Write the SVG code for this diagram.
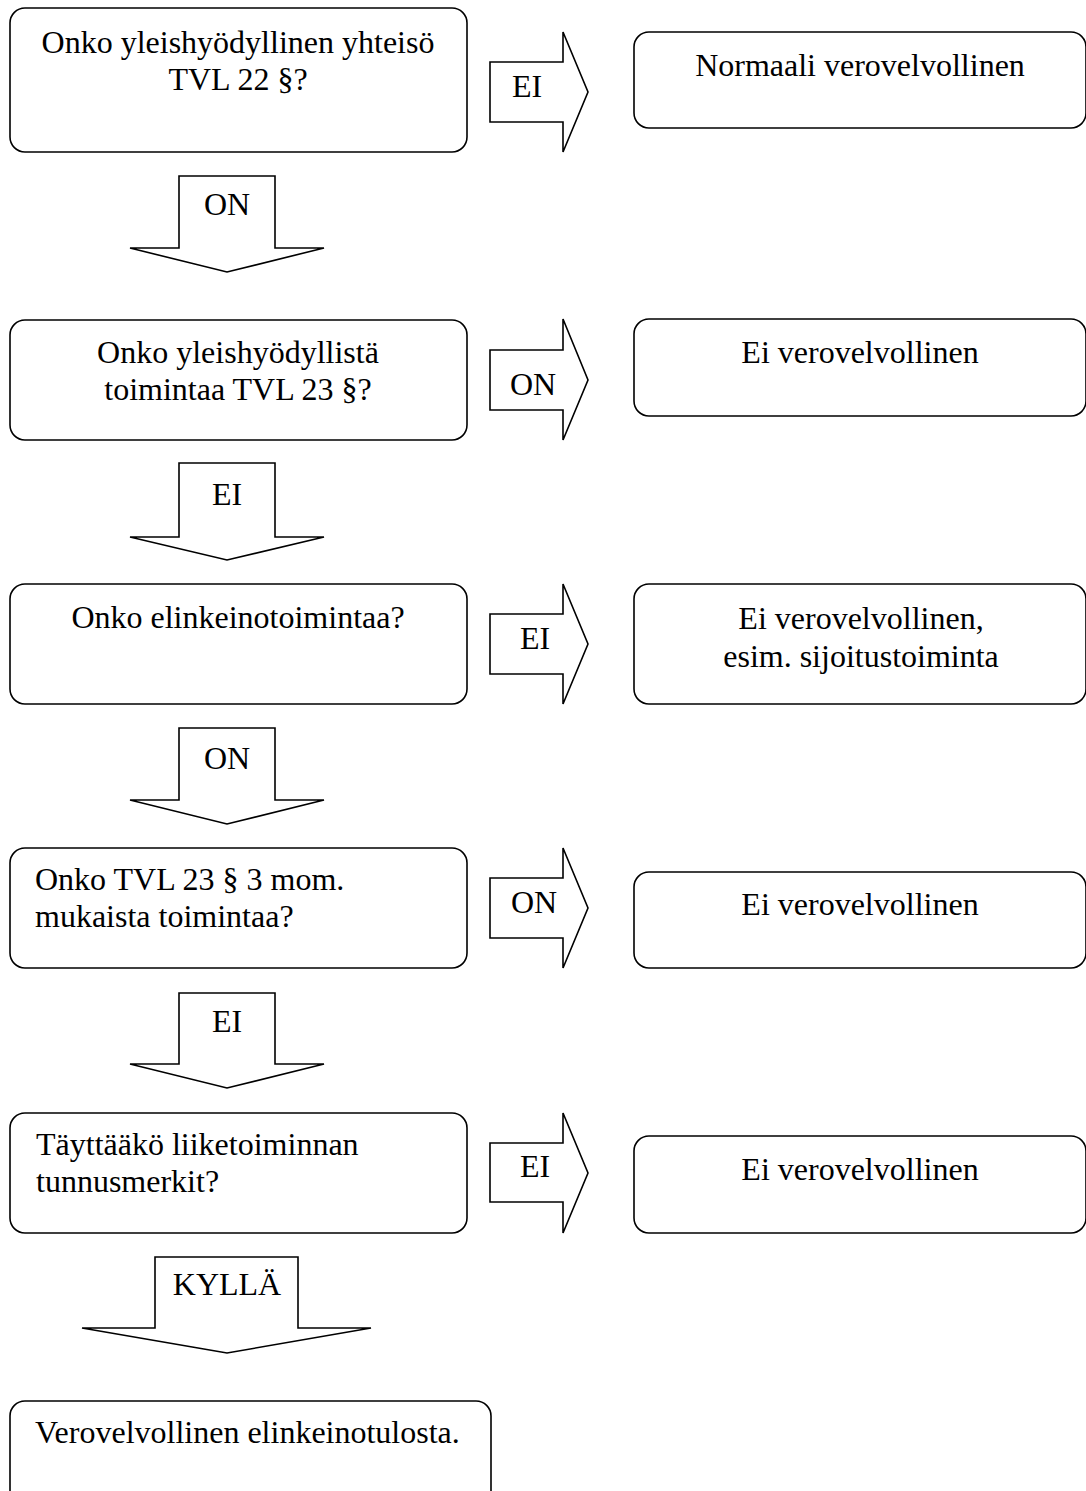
<svg xmlns="http://www.w3.org/2000/svg" width="1086" height="1491" viewBox="0 0 1086 1491">
<style>
.box{fill:#fff;stroke:#000;stroke-width:1.6}
.arr{fill:#fff;stroke:#000;stroke-width:1.6;stroke-linejoin:miter}
text{font-family:"Liberation Serif","Times New Roman",serif;font-size:32px;fill:#000}
.c{text-anchor:middle}
</style>
<rect width="1086" height="1491" fill="#fff"/>
<g id="connectors">
  <g id="arrow-right-1"><polygon class="arr" points="490,62 563,62 563,32 588,92 563,152 563,122 490,122"/><text class="c" x="527" y="97">EI</text></g>
  <g id="arrow-down-1"><polygon class="arr" points="179,176 275,176 275,248 324,248 227,272 130,248 179,248"/><text class="c" x="227" y="215">ON</text></g>
  <g id="arrow-right-2"><polygon class="arr" points="490,350 563,350 563,319 588,380 563,440 563,410 490,410"/><text class="c" x="533" y="395">ON</text></g>
  <g id="arrow-down-2"><polygon class="arr" points="179,463 275,463 275,537 324,537 227,560 130,537 179,537"/><text class="c" x="227" y="505">EI</text></g>
  <g id="arrow-right-3"><polygon class="arr" points="490,614 563,614 563,584 588,644 563,704 563,674 490,674"/><text class="c" x="535" y="649">EI</text></g>
  <g id="arrow-down-3"><polygon class="arr" points="179,728 275,728 275,800 324,800 227,824 130,800 179,800"/><text class="c" x="227" y="769">ON</text></g>
  <g id="arrow-right-4"><polygon class="arr" points="490,878 563,878 563,848 588,908 563,968 563,938 490,938"/><text class="c" x="534" y="913">ON</text></g>
  <g id="arrow-down-4"><polygon class="arr" points="179,993 275,993 275,1064 324,1064 227,1088 130,1064 179,1064"/><text class="c" x="227" y="1032">EI</text></g>
  <g id="arrow-right-5"><polygon class="arr" points="490,1143 563,1143 563,1113 588,1173 563,1233 563,1202 490,1202"/><text class="c" x="535" y="1177">EI</text></g>
  <g id="arrow-down-5"><polygon class="arr" points="155,1257 298,1257 298,1328 371,1328 227,1353 82,1328 155,1328"/><text class="c" x="227" y="1295">KYLLÄ</text></g>
</g>
<g id="q1"><rect class="box" x="10" y="8" width="457" height="144" rx="15"/><text class="c" x="238" y="53">Onko yleishyödyllinen yhteisö</text><text class="c" x="238" y="90">TVL 22 §?</text></g>
<g id="r1"><rect class="box" x="634" y="32" width="452" height="96" rx="15"/><text class="c" x="860" y="76">Normaali verovelvollinen</text></g>
<g id="q2"><rect class="box" x="10" y="320" width="457" height="120" rx="15"/><text class="c" x="238" y="363">Onko yleishyödyllistä</text><text class="c" x="238" y="400">toimintaa TVL 23 §?</text></g>
<g id="r2"><rect class="box" x="634" y="319" width="452" height="97" rx="15"/><text class="c" x="860" y="363">Ei verovelvollinen</text></g>
<g id="q3"><rect class="box" x="10" y="584" width="457" height="120" rx="15"/><text class="c" x="238" y="628">Onko elinkeinotoimintaa?</text></g>
<g id="r3"><rect class="box" x="634" y="584" width="452" height="120" rx="15"/><text class="c" x="861" y="629">Ei verovelvollinen,</text><text class="c" x="861" y="667">esim. sijoitustoiminta</text></g>
<g id="q4"><rect class="box" x="10" y="848" width="457" height="120" rx="15"/><text x="35" y="890">Onko TVL 23 § 3 mom.</text><text x="35" y="927">mukaista toimintaa?</text></g>
<g id="r4"><rect class="box" x="634" y="872" width="452" height="96" rx="15"/><text class="c" x="860" y="915">Ei verovelvollinen</text></g>
<g id="q5"><rect class="box" x="10" y="1113" width="457" height="120" rx="15"/><text x="36" y="1155">Täyttääkö liiketoiminnan</text><text x="36" y="1192">tunnusmerkit?</text></g>
<g id="r5"><rect class="box" x="634" y="1136" width="452" height="97" rx="15"/><text class="c" x="860" y="1180">Ei verovelvollinen</text></g>
<g id="result"><rect class="box" x="10" y="1401" width="481" height="110" rx="15"/><text x="35" y="1443">Verovelvollinen elinkeinotulosta.</text></g>
</svg>
